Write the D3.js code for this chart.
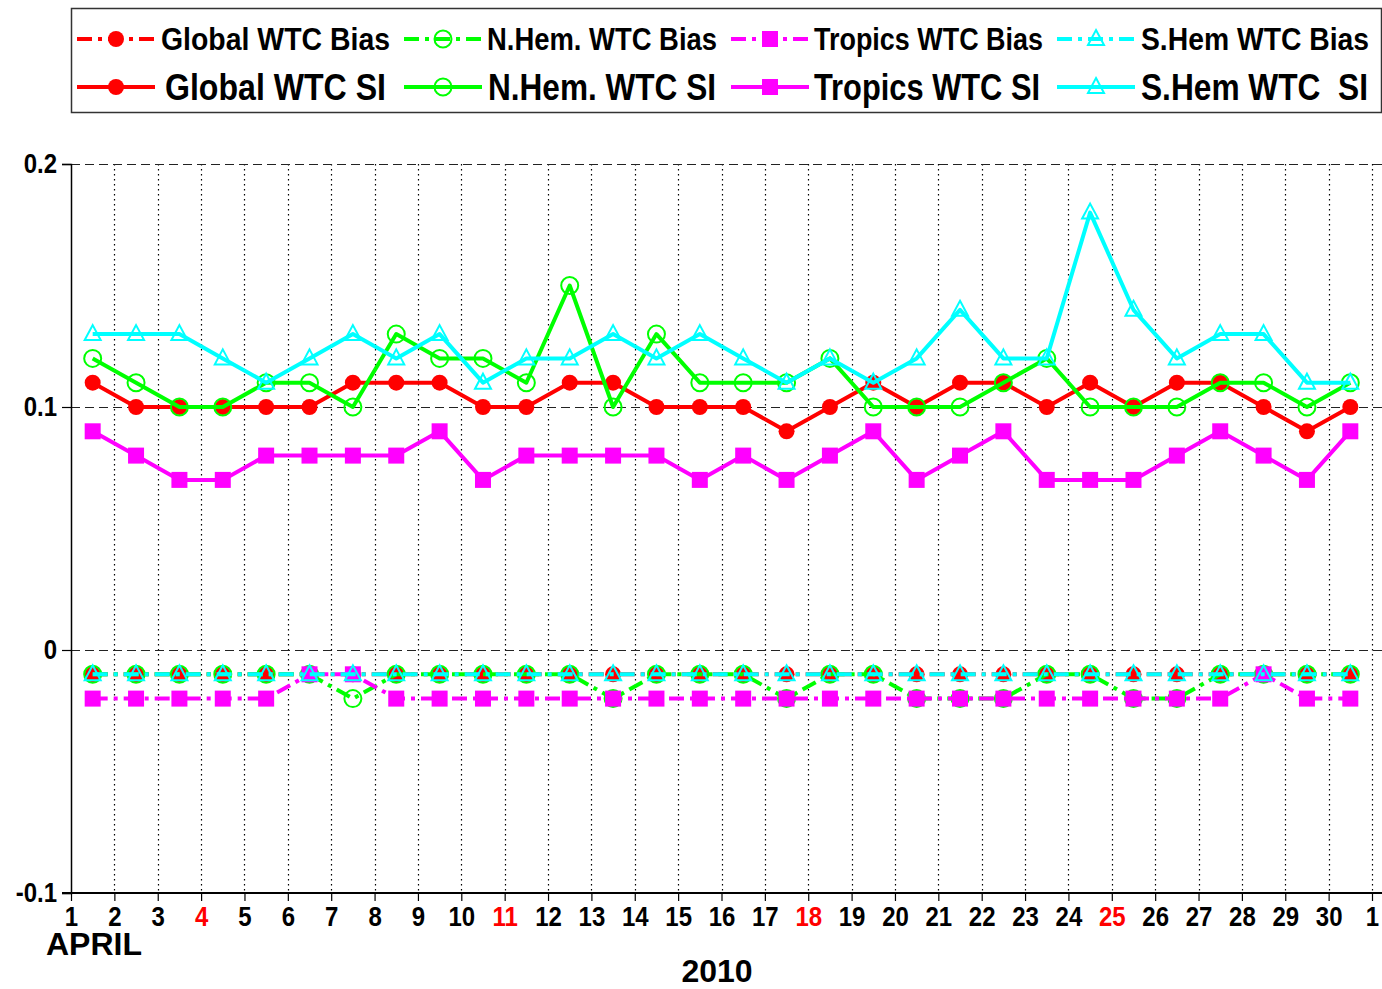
<!DOCTYPE html>
<html>
<head>
<meta charset="utf-8">
<script src="https://cdn.jsdelivr.net/npm/d3@7"></script>
<style>
  html, body { margin: 0; padding: 0; background: #fff; }
  svg { display: block; }
  text { font-family: "Liberation Sans", Arial, sans-serif; font-weight: bold; }
</style>
</head>
<body>
<svg id="chart" width="1382" height="989"></svg>
<script>
// Days of April 2010; each value sits in the middle of its day
const days = [1,2,3,4,5,6,7,8,9,10,11,12,13,14,15,16,17,18,19,20,21,22,23,24,25,26,27,28,29,30];
const dayTickLabels = ["1","2","3","4","5","6","7","8","9","10","11","12","13","14","15","16","17","18","19","20","21","22","23","24","25","26","27","28","29","30","1"];
const sundayLabels = ["4","11","18","25"];
const yTickValues = [0.2, 0.1, 0, -0.1];
const yTickLabels = ["0.2", "0.1", "0", "-0.1"];

// Wet tropospheric correction bias per region
const globalBias  = [-0.01,-0.01,-0.01,-0.01,-0.01,-0.01,-0.01,-0.01,-0.01,-0.01,-0.01,-0.01,-0.01,-0.01,-0.01,-0.01,-0.01,-0.01,-0.01,-0.01,-0.01,-0.01,-0.01,-0.01,-0.01,-0.01,-0.01,-0.01,-0.01,-0.01];
const nhemBias    = [-0.01,-0.01,-0.01,-0.01,-0.01,-0.01,-0.02,-0.01,-0.01,-0.01,-0.01,-0.01,-0.02,-0.01,-0.01,-0.01,-0.02,-0.01,-0.01,-0.02,-0.02,-0.02,-0.01,-0.01,-0.02,-0.02,-0.01,-0.01,-0.01,-0.01];
const tropicsBias = [-0.02,-0.02,-0.02,-0.02,-0.02,-0.01,-0.01,-0.02,-0.02,-0.02,-0.02,-0.02,-0.02,-0.02,-0.02,-0.02,-0.02,-0.02,-0.02,-0.02,-0.02,-0.02,-0.02,-0.02,-0.02,-0.02,-0.02,-0.01,-0.02,-0.02];
const shemBias    = [-0.01,-0.01,-0.01,-0.01,-0.01,-0.01,-0.01,-0.01,-0.01,-0.01,-0.01,-0.01,-0.01,-0.01,-0.01,-0.01,-0.01,-0.01,-0.01,-0.01,-0.01,-0.01,-0.01,-0.01,-0.01,-0.01,-0.01,-0.01,-0.01,-0.01];

// Wet tropospheric correction scatter index per region
const globalSI  = [0.11,0.10,0.10,0.10,0.10,0.10,0.11,0.11,0.11,0.10,0.10,0.11,0.11,0.10,0.10,0.10,0.09,0.10,0.11,0.10,0.11,0.11,0.10,0.11,0.10,0.11,0.11,0.10,0.09,0.10];
const nhemSI    = [0.12,0.11,0.10,0.10,0.11,0.11,0.10,0.13,0.12,0.12,0.11,0.15,0.10,0.13,0.11,0.11,0.11,0.12,0.10,0.10,0.10,0.11,0.12,0.10,0.10,0.10,0.11,0.11,0.10,0.11];
const tropicsSI = [0.09,0.08,0.07,0.07,0.08,0.08,0.08,0.08,0.09,0.07,0.08,0.08,0.08,0.08,0.07,0.08,0.07,0.08,0.09,0.07,0.08,0.09,0.07,0.07,0.07,0.08,0.09,0.08,0.07,0.09];
const shemSI    = [0.13,0.13,0.13,0.12,0.11,0.12,0.13,0.12,0.13,0.11,0.12,0.12,0.13,0.12,0.13,0.12,0.11,0.12,0.11,0.12,0.14,0.12,0.12,0.18,0.14,0.12,0.13,0.13,0.11,0.11];

const seriesDefs = [
  { name: "Global WTC Bias",  values: globalBias,  color: "#ff0000", marker: "dot",      dashed: true },
  { name: "N.Hem. WTC Bias",  values: nhemBias,    color: "#00ff00", marker: "circle",   dashed: true },
  { name: "Tropics WTC Bias", values: tropicsBias, color: "#ff00ff", marker: "square",   dashed: true },
  { name: "S.Hem WTC Bias",   values: shemBias,    color: "#00ffff", marker: "triangle", dashed: true },
  { name: "Global WTC SI",    values: globalSI,    color: "#ff0000", marker: "dot",      dashed: false },
  { name: "N.Hem. WTC SI",    values: nhemSI,      color: "#00ff00", marker: "circle",   dashed: false },
  { name: "Tropics WTC SI",   values: tropicsSI,   color: "#ff00ff", marker: "square",   dashed: false },
  { name: "S.Hem WTC  SI",    values: shemSI,      color: "#00ffff", marker: "triangle", dashed: false }
];

const svg = d3.select("#chart");
const plotLeft = 71, plotRight = 1372, plotTop = 164, plotBottom = 893, plotEdge = 1382;

const x = d3.scaleLinear().domain([1, 31]).range([plotLeft, plotRight]);
const y = d3.scaleLinear().domain([-0.1, 0.2]).range([plotBottom, plotTop]);

const DASH_DOT = "15,6,4,6";
const TALL = 1.15; // vertical stretch of the bold label lettering

// ---- grid ----
const grid = svg.append("g");
grid.selectAll("line.vg")
  .data(d3.range(2, 32))
  .join("line")
  .attr("x1", d => Math.round(x(d)) + 0.5).attr("x2", d => Math.round(x(d)) + 0.5)
  .attr("y1", plotTop).attr("y2", plotBottom)
  .attr("stroke", "#000").attr("stroke-width", 1.2)
  .attr("stroke-dasharray", "1.5,3.5");

grid.selectAll("line.hg")
  .data(yTickValues.filter(v => v > -0.1))
  .join("line")
  .attr("x1", plotLeft).attr("x2", plotEdge)
  .attr("y1", d => Math.round(y(d)) + 0.5).attr("y2", d => Math.round(y(d)) + 0.5)
  .attr("stroke", "#222").attr("stroke-width", 1.2)
  .attr("stroke-dasharray", "9,5");

// ---- axes ----
const yAxis = d3.axisLeft(y)
  .tickValues(yTickValues)
  .tickFormat((d, i) => yTickLabels[i])
  .tickSize(9)
  .tickPadding(5);
const gy = svg.append("g").attr("transform", `translate(${plotLeft},0)`).call(yAxis);
gy.select(".domain").attr("stroke", "#000").attr("stroke-width", 1.5);
gy.selectAll(".tick line").attr("stroke", "#000").attr("stroke-width", 1.2);
gy.selectAll(".tick text")
  .attr("font-size", 24).attr("font-family", "Liberation Sans, Arial, sans-serif")
  .attr("font-weight", "bold").attr("fill", "#000")
  .attr("dy", null).attr("y", 7.5)
  .attr("transform", `scale(1,${TALL})`);

const xAxis = d3.axisBottom(x)
  .tickValues(d3.range(1, 32))
  .tickFormat((d, i) => dayTickLabels[i])
  .tickSize(8)
  .tickPadding(5);
const gx = svg.append("g").attr("transform", `translate(0,${plotBottom})`).call(xAxis);
gx.select(".domain").remove();
gx.append("line").attr("x1", plotLeft - 9).attr("x2", plotEdge).attr("y1", 0).attr("y2", 0)
  .attr("stroke", "#000").attr("stroke-width", 2);
gx.selectAll(".tick line").attr("stroke", "#000").attr("stroke-width", 1.2);
gx.selectAll(".tick text")
  .attr("font-size", 24).attr("font-family", "Liberation Sans, Arial, sans-serif")
  .attr("font-weight", "bold")
  .attr("dy", null).attr("y", 28.5)
  .attr("transform", `scale(1,${TALL})`)
  .attr("fill", (d, i) => sundayLabels.includes(dayTickLabels[i]) ? "#ff0000" : "#000");

svg.append("text").attr("x", 46).attr("y", 955).attr("font-size", 32).text("APRIL");
svg.append("text").attr("x", 717).attr("y", 982).attr("font-size", 32)
  .attr("text-anchor", "middle").text("2010");

// ---- markers ----
function drawMarker(sel, type, color) {
  if (type === "dot") {
    sel.append("circle").attr("r", 8).attr("fill", color);
  } else if (type === "circle") {
    sel.append("circle").attr("r", 8.5).attr("fill", "none")
      .attr("stroke", color).attr("stroke-width", 2);
  } else if (type === "square") {
    sel.append("rect").attr("x", -8).attr("y", -8).attr("width", 16).attr("height", 16)
      .attr("fill", color);
  } else if (type === "triangle") {
    sel.append("path").attr("d", "M0,-9 L8,6 L-8,6 Z").attr("fill", "none")
      .attr("stroke", color).attr("stroke-width", 2);
  }
}

// ---- series ----
const line = d3.line().x((d, i) => x(days[i] + 0.5)).y(d => y(d));
const plot = svg.append("g");
seriesDefs.forEach(s => {
  const g = plot.append("g");
  g.append("path")
    .attr("d", line(s.values))
    .attr("fill", "none")
    .attr("stroke", s.color)
    .attr("stroke-width", 4)
    .attr("stroke-linejoin", "round")
    .attr("stroke-dasharray", s.dashed ? DASH_DOT : null);
  g.selectAll("g.m")
    .data(s.values)
    .join("g")
    .attr("transform", (d, i) => `translate(${x(days[i] + 0.5)},${y(d)})`)
    .each(function () { drawMarker(d3.select(this), s.marker, s.color); });
});

// ---- legend ----
const legend = svg.append("g");
legend.append("rect").attr("x", 71.5).attr("y", 8.5).attr("width", 1310).attr("height", 104)
  .attr("fill", "#fff").attr("stroke", "#333").attr("stroke-width", 1.5);
const colX = [77, 404, 731, 1057];
const rowY = [39, 87];
const rowFont = [28, 32];
const rowStretch = [1.1, 1.15];
const rowBase = [50, 100];
const textX = [[161, 165], [487, 488], [814, 814], [1141, 1141]];
const textW = [[229, 221], [230, 228], [229, 226], [228, 227]];
seriesDefs.forEach((s, k) => {
  const row = s.dashed ? 0 : 1;
  const col = k % 4;
  const g = legend.append("g");
  g.append("line")
    .attr("x1", colX[col]).attr("x2", colX[col] + 78)
    .attr("y1", rowY[row]).attr("y2", rowY[row])
    .attr("stroke", s.color).attr("stroke-width", 4)
    .attr("stroke-dasharray", s.dashed ? DASH_DOT : null);
  drawMarker(g.append("g").attr("transform", `translate(${colX[col] + 39},${rowY[row]})`), s.marker, s.color);
  g.append("text")
    .attr("transform", `translate(${textX[col][row]},${rowBase[row]}) scale(1,${rowStretch[row]})`)
    .attr("font-size", rowFont[row])
    .attr("textLength", textW[col][row])
    .attr("lengthAdjust", "spacingAndGlyphs")
    .style("white-space", "pre")
    .text(s.name);
});
</script>
</body>
</html>
